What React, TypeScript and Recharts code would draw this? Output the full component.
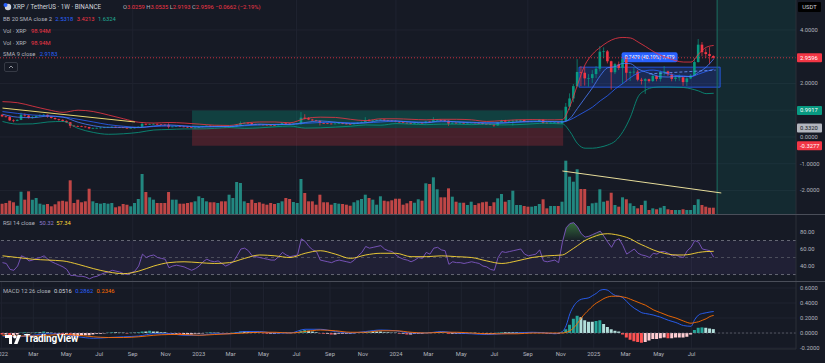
import React from "react";
import {
  ComposedChart,
  Bar,
  Line,
  Area,
  XAxis,
  YAxis,
  CartesianGrid,
  ReferenceArea,
  ReferenceLine,
  Cell,
} from "recharts";

// weekly candles, week 0 = 2022-01-03 (Binance XRP/USDT 1W)
const firstOpen = 0.83;
const closes = [
  0.77, 0.75, 0.62, 0.60, 0.64, 0.83, 0.80, 0.72, 0.74, 0.78,
  0.80, 0.83, 0.76, 0.71, 0.67, 0.64, 0.60, 0.55, 0.42, 0.41,
  0.40, 0.39, 0.37, 0.32, 0.33, 0.34, 0.35, 0.36, 0.37, 0.38,
  0.37, 0.36, 0.34, 0.33, 0.34, 0.35, 0.38, 0.49, 0.46, 0.48,
  0.49, 0.47, 0.46, 0.45, 0.38, 0.39, 0.40, 0.39, 0.38, 0.36,
  0.34, 0.35, 0.37, 0.40, 0.42, 0.41, 0.40, 0.41, 0.39, 0.37,
  0.38, 0.40, 0.45, 0.52, 0.53, 0.52, 0.48, 0.47, 0.46, 0.455,
  0.45, 0.445, 0.44, 0.47, 0.52, 0.50, 0.48, 0.49, 0.50, 0.72,
  0.70, 0.65, 0.62, 0.60, 0.52, 0.51, 0.50, 0.49, 0.50, 0.51,
  0.50, 0.49, 0.48, 0.50, 0.53, 0.56, 0.62, 0.61, 0.62, 0.63,
  0.65, 0.62, 0.61, 0.60, 0.57, 0.55, 0.53, 0.52, 0.50, 0.51,
  0.53, 0.52, 0.58, 0.56, 0.63, 0.64, 0.62, 0.61, 0.50, 0.53,
  0.52, 0.53, 0.52, 0.53, 0.54, 0.53, 0.52, 0.49, 0.48, 0.47,
  0.43, 0.55, 0.60, 0.59, 0.60, 0.61, 0.62, 0.63, 0.59, 0.57,
  0.58, 0.59, 0.64, 0.53, 0.52, 0.53, 0.54, 0.51, 0.60, 1.13,
  1.44, 1.90, 2.43, 2.40, 2.19, 2.20, 2.35, 2.55, 3.19, 3.20,
  2.83, 2.42, 2.72, 2.58, 2.90, 2.40, 2.43, 2.44, 2.14, 2.10,
  2.16, 2.09, 2.28, 2.17, 2.43, 2.45, 2.34, 2.17, 2.22, 2.23,
  2.05, 2.19, 2.30, 2.80, 3.45, 3.17, 3.10, 3.0259, 2.9596,
];
const highs = [
  0.85, 0.79, 0.78, 0.66, 0.66, 0.91, 0.88, 0.82, 0.79, 0.80,
  0.85, 0.86, 0.84, 0.77, 0.73, 0.68, 0.66, 0.62, 0.56, 0.45,
  0.43, 0.42, 0.40, 0.38, 0.35, 0.35, 0.37, 0.38, 0.39, 0.40,
  0.39, 0.38, 0.37, 0.35, 0.35, 0.36, 0.40, 0.56, 0.50, 0.50,
  0.51, 0.50, 0.48, 0.47, 0.51, 0.40, 0.41, 0.41, 0.40, 0.39,
  0.37, 0.36, 0.38, 0.41, 0.43, 0.43, 0.42, 0.42, 0.42, 0.40,
  0.39, 0.41, 0.47, 0.58, 0.55, 0.55, 0.53, 0.49, 0.48, 0.47,
  0.47, 0.46, 0.46, 0.48, 0.54, 0.53, 0.51, 0.50, 0.51, 0.93,
  0.85, 0.74, 0.68, 0.64, 0.62, 0.54, 0.52, 0.51, 0.52, 0.53,
  0.53, 0.52, 0.50, 0.51, 0.55, 0.58, 0.74, 0.67, 0.64, 0.65,
  0.67, 0.66, 0.64, 0.63, 0.62, 0.58, 0.56, 0.54, 0.53, 0.53,
  0.54, 0.55, 0.60, 0.60, 0.74, 0.67, 0.65, 0.64, 0.62, 0.55,
  0.55, 0.54, 0.54, 0.55, 0.55, 0.55, 0.54, 0.53, 0.50, 0.49,
  0.48, 0.56, 0.64, 0.64, 0.62, 0.64, 0.64, 0.64, 0.64, 0.61,
  0.59, 0.60, 0.66, 0.65, 0.55, 0.55, 0.56, 0.55, 0.64, 1.27,
  1.63, 1.98, 2.91, 2.65, 2.60, 2.35, 2.50, 2.65, 3.40, 3.35,
  3.25, 2.85, 2.77, 2.82, 2.95, 3.00, 2.48, 2.60, 2.50, 2.21,
  2.20, 2.18, 2.35, 2.30, 2.48, 2.65, 2.48, 2.38, 2.30, 2.34,
  2.25, 2.23, 2.35, 2.95, 3.66, 3.55, 3.30, 3.36, 3.0535,
];
const lows = [
  0.74, 0.73, 0.60, 0.55, 0.59, 0.63, 0.76, 0.69, 0.68, 0.73,
  0.77, 0.78, 0.72, 0.69, 0.64, 0.60, 0.56, 0.52, 0.33, 0.39,
  0.38, 0.37, 0.35, 0.29, 0.31, 0.31, 0.32, 0.33, 0.35, 0.36,
  0.35, 0.34, 0.33, 0.32, 0.32, 0.32, 0.34, 0.37, 0.44, 0.45,
  0.46, 0.45, 0.44, 0.43, 0.32, 0.36, 0.37, 0.37, 0.36, 0.34,
  0.33, 0.33, 0.34, 0.36, 0.39, 0.39, 0.38, 0.39, 0.38, 0.36,
  0.35, 0.36, 0.38, 0.43, 0.49, 0.50, 0.45, 0.45, 0.44, 0.44,
  0.43, 0.43, 0.42, 0.43, 0.46, 0.47, 0.46, 0.46, 0.47, 0.46,
  0.66, 0.63, 0.60, 0.58, 0.43, 0.49, 0.48, 0.47, 0.48, 0.49,
  0.48, 0.47, 0.46, 0.47, 0.49, 0.52, 0.55, 0.58, 0.59, 0.60,
  0.61, 0.60, 0.59, 0.58, 0.55, 0.53, 0.51, 0.50, 0.48, 0.49,
  0.50, 0.51, 0.51, 0.54, 0.55, 0.59, 0.58, 0.57, 0.42, 0.49,
  0.50, 0.50, 0.50, 0.51, 0.51, 0.51, 0.50, 0.47, 0.46, 0.46,
  0.38, 0.42, 0.54, 0.57, 0.56, 0.43, 0.56, 0.56, 0.55, 0.55,
  0.56, 0.57, 0.58, 0.50, 0.51, 0.51, 0.52, 0.50, 0.49, 0.58,
  1.01, 1.30, 1.85, 1.90, 1.92, 1.88, 2.02, 2.20, 2.45, 2.95,
  2.75, 1.77, 2.35, 2.50, 1.99, 2.07, 2.09, 2.32, 2.08, 1.96,
  1.61, 2.03, 2.05, 2.08, 2.07, 2.30, 2.28, 2.08, 2.08, 2.10,
  1.91, 1.90, 2.16, 2.28, 2.78, 3.02, 2.95, 2.72, 2.9193,
];
// weekly volume, millions of XRP
const volumes = [
  162, 173, 209, 184, 130, 350, 225, 356, 225, 251,
  162, 146, 157, 121, 152, 199, 209, 196, 529, 173,
  225, 184, 199, 397, 199, 173, 162, 173, 162, 173,
  105, 121, 157, 146, 121, 173, 236, 628, 345, 262,
  225, 173, 173, 173, 345, 225, 225, 162, 162, 173,
  184, 199, 278, 251, 199, 184, 184, 173, 199, 199,
  303, 251, 502, 487, 199, 173, 225, 173, 184, 162,
  146, 173, 157, 173, 199, 251, 236, 188, 173, 550,
  330, 199, 199, 146, 303, 184, 184, 146, 173, 162,
  157, 146, 130, 184, 215, 236, 303, 251, 225, 146,
  278, 209, 199, 215, 240, 240, 146, 168, 204, 177,
  231, 209, 482, 471, 576, 388, 262, 262, 403, 272,
  193, 177, 177, 141, 193, 141, 168, 184, 193, 126,
  184, 246, 314, 193, 220, 366, 141, 141, 126, 115,
  115, 126, 157, 231, 89, 126, 126, 126, 193, 837,
  586, 507, 702, 393, 393, 126, 168, 177, 388, 193,
  209, 334, 141, 115, 262, 231, 168, 126, 89, 141,
  209, 63, 89, 74, 99, 126, 74, 63, 63, 63,
  74, 63, 63, 141, 231, 141, 115, 99, 98.94,
];

// Bollinger Bands (20, 2) and SMA 9, read at these weeks
const bandWeeks = [
  0, 4, 8, 12, 16, 20, 24, 28, 32, 36, 40, 44, 48, 52, 56, 60, 64, 68, 72, 76,
  80, 84, 88, 92, 96, 100, 104, 108, 112, 116, 120, 124, 128, 132, 136, 140, 144,
  146, 148, 150, 152, 154, 156, 158, 160, 162, 164, 166, 168, 170, 172, 174, 176,
  178, 180, 182, 184, 186, 188,
];
const bbUpper = [
  1.32, 1.28, 1.15, 1.02, 0.92, 1.0, 0.95, 0.82, 0.68, 0.55, 0.52, 0.54, 0.52, 0.48,
  0.44, 0.43, 0.52, 0.56, 0.56, 0.53, 0.69, 0.74, 0.73, 0.66, 0.61, 0.68, 0.68, 0.66,
  0.64, 0.66, 0.66, 0.64, 0.58, 0.61, 0.64, 0.65, 0.64,
  0.64, 0.65, 1.15, 1.95, 2.7, 3.1, 3.35, 3.55, 3.68, 3.72, 3.7, 3.55, 3.38, 3.2,
  3.05, 2.95, 2.85, 2.8, 2.8, 3.1, 3.35, 3.4213,
];
const bbBasis = [
  0.95, 0.88, 0.82, 0.79, 0.75, 0.66, 0.56, 0.46, 0.4, 0.36, 0.39, 0.41, 0.41, 0.39,
  0.38, 0.39, 0.42, 0.45, 0.47, 0.47, 0.51, 0.54, 0.55, 0.53, 0.53, 0.56, 0.59, 0.57,
  0.55, 0.57, 0.57, 0.55, 0.53, 0.53, 0.55, 0.57, 0.58,
  0.57, 0.57, 0.64, 0.79, 0.95, 1.12, 1.35, 1.55, 1.8, 2.0, 2.22, 2.39, 2.48, 2.5,
  2.45, 2.36, 2.3, 2.28, 2.26, 2.35, 2.45, 2.5318,
];
const bbLower = [
  0.58, 0.48, 0.49, 0.56, 0.58, 0.32, 0.17, 0.1, 0.12, 0.17, 0.26, 0.28, 0.3, 0.3,
  0.32, 0.35, 0.32, 0.34, 0.38, 0.41, 0.33, 0.34, 0.37, 0.4, 0.45, 0.44, 0.5, 0.48,
  0.46, 0.48, 0.48, 0.46, 0.48, 0.45, 0.46, 0.49, 0.52,
  0.5, 0.49, 0.2, -0.25, -0.42, -0.42, -0.38, -0.3, -0.15, 0.2, 0.75, 1.5, 1.75,
  1.85, 1.87, 1.87, 1.86, 1.85, 1.8, 1.72, 1.62, 1.6324,
];
const sma9 = [
  0.85, 0.74, 0.72, 0.78, 0.74, 0.55, 0.42, 0.36, 0.36, 0.35, 0.41, 0.45, 0.41, 0.37,
  0.39, 0.39, 0.44, 0.48, 0.46, 0.47, 0.54, 0.6, 0.55, 0.5, 0.53, 0.61, 0.6, 0.55,
  0.53, 0.6, 0.56, 0.53, 0.52, 0.52, 0.56, 0.59, 0.58,
  0.57, 0.56, 0.69, 1.07, 1.46, 1.85, 2.29, 2.59, 2.63, 2.75, 2.74, 2.54, 2.43, 2.33,
  2.25, 2.24, 2.26, 2.26, 2.26, 2.42, 2.61, 2.9183,
];

// RSI 14, weekly
const rsi = [
  44, 43, 36, 35, 40, 52, 50, 46, 47, 49, 50, 52, 48, 45, 43, 41, 39, 36, 29, 29,
  28, 28, 27, 25, 27, 28, 30, 32, 33, 35, 34, 33, 31, 30, 32, 34, 40, 54, 50, 52,
  53, 50, 49, 48, 38, 40, 41, 40, 39, 37, 35, 37,
  40, 45, 48, 46, 45, 46, 43, 40, 42, 45, 52, 60, 61, 58, 52, 51, 50, 49, 48, 47,
  47, 51, 56, 53, 51, 52, 53, 72, 69, 63, 59, 57, 47, 46, 45, 44, 46, 47, 46, 45,
  44, 47, 52, 56, 63, 61, 62, 63, 64, 60, 58, 57,
  53, 50, 48, 47, 45, 47, 50, 49, 56, 54, 61, 62, 59, 58, 42, 45, 44, 44, 43, 44,
  45, 44, 43, 40, 39, 36, 35, 50, 57, 56, 57, 58, 59, 60, 54, 52, 53, 54, 59, 46,
  45, 46, 47, 44, 68, 85, 90, 91, 86, 78, 74, 75, 77,
  79, 81, 75, 68, 62, 70, 72, 64, 54, 57, 60, 55, 53, 52, 50, 55, 54, 57, 57, 55,
  52, 53, 51, 50, 58, 62, 70, 68, 60, 59, 58, 50.32,
];
const rsiMaWeeks = [
  0, 4, 8, 12, 16, 20, 24, 28, 32, 36, 40, 44, 48, 52, 56, 60, 64, 68, 72, 76, 80,
  84, 88, 92, 96, 100, 104, 108, 112, 116, 120, 124, 128, 132, 136, 140, 144, 148,
  150, 152, 154, 156, 158, 160, 162, 164, 166, 168, 170, 172, 174, 176, 178, 180,
  182, 184, 186, 188,
];
const rsiMa = [
  52, 50, 48, 47, 46, 42, 37, 33, 31, 34, 40, 44, 45, 44, 43, 44, 49, 53, 52, 50, 55,
  58, 54, 49, 53, 55, 55, 51, 51, 52, 51, 50, 46, 43, 46, 50, 52, 53,
  58, 64, 70, 74, 77, 78, 77, 75, 72, 67, 63, 59, 56, 54, 53, 53, 54, 56, 57, 57.34,
];

// MACD 12 26 9
const macdWeeks = [
  0, 4, 8, 12, 16, 20, 24, 28, 32, 36, 40, 44, 48, 52, 56, 60, 64, 68, 72, 76, 80,
  84, 88, 92, 96, 100, 104, 108, 112, 116, 120, 124, 128, 132, 136, 140, 144, 146,
  148, 149, 150, 151, 152, 153, 154, 155, 156, 157, 158, 159, 160, 161, 162, 163,
  164, 165, 166, 167, 168, 169, 170, 172, 174, 176, 178, 180, 182, 183, 184, 185,
  186, 187, 188,
];
const macdLine = [
  -0.04, -0.05, -0.03, -0.01, -0.02, -0.05, -0.07, -0.06, -0.05, -0.04, -0.01, -0.01,
  -0.03, -0.03, -0.01, -0.01, 0.02, 0.02, 0.0, 0.0, 0.05, 0.05, 0.02, 0.0, 0.02, 0.04,
  0.03, 0.0, 0.0, 0.02, 0.0, -0.01, -0.02, -0.01, 0.0, 0.01, 0.0, -0.01,
  0.02, 0.1, 0.26, 0.36, 0.42, 0.45, 0.46, 0.47, 0.5, 0.53, 0.57, 0.58, 0.57, 0.53,
  0.5, 0.49, 0.47, 0.42, 0.37, 0.33, 0.3, 0.27, 0.26, 0.24, 0.21, 0.17, 0.14, 0.1,
  0.09, 0.18, 0.24, 0.26, 0.27, 0.28, 0.2862,
];
const macdSignal = [
  -0.03, -0.04, -0.04, -0.03, -0.02, -0.03, -0.05, -0.06, -0.06, -0.05, -0.03, -0.02,
  -0.02, -0.03, -0.02, -0.01, 0.0, 0.01, 0.01, 0.0, 0.02, 0.04, 0.03, 0.01, 0.01, 0.03,
  0.03, 0.01, 0.0, 0.01, 0.01, 0.0, -0.01, -0.01, -0.01, 0.0, 0.0, 0.0,
  0.0, 0.01, 0.03, 0.07, 0.13, 0.2, 0.26, 0.31, 0.36, 0.4, 0.43, 0.46, 0.48, 0.49,
  0.49, 0.49, 0.48, 0.47, 0.45, 0.43, 0.41, 0.39, 0.37, 0.31, 0.27, 0.23, 0.2, 0.16,
  0.13, 0.14, 0.15, 0.17, 0.19, 0.22, 0.2346,
];
const macdHist = [
  -0.02, -0.02, -0.03, -0.03, -0.02, 0.005, 0.01, 0.005, 0.005, 0.01, 0.01, 0.02,
  0.01, 0.005, -0.01, -0.01, -0.02, -0.02, -0.04, -0.04, -0.04, -0.03, -0.03, -0.03,
  -0.02, -0.01, -0.01, -0.005, 0.005, 0.01, 0.01, 0.005, 0.005, -0.005, 0.005, 0.005,
  0.01, 0.02, 0.02, 0.03, 0.02, 0.02, 0.01, 0.01, -0.01, -0.01, -0.01, -0.02, -0.02,
  -0.02, -0.02, -0.01,
  -0.01, -0.005, 0.005, 0.01, 0.005, 0.005, -0.005, -0.01, -0.01, 0.005, 0.01, 0.02,
  0.02, 0.02, 0.01, 0.01, 0.005, -0.005, -0.01, -0.01, -0.01, -0.005, 0.005, 0.005,
  0.005, 0.005, 0.005, 0.03, 0.04, 0.03, 0.02, 0.01, -0.005, -0.01, -0.01, -0.02,
  -0.02, -0.01, -0.01, -0.01, -0.01, -0.005, 0.005, 0.01, 0.01, 0.02, 0.02, 0.02,
  0.02, 0.01, 0.01, 0.005,
  0.005, -0.01, -0.01, -0.02, -0.02, -0.01, -0.01, -0.01, 0.005, 0.005, 0.01, 0.01,
  0.01, 0.005, -0.01, -0.01, -0.01, -0.01, -0.01, -0.005, 0.005, 0.005, -0.005,
  -0.01, -0.01, -0.01, -0.01, 0.005, 0.01, 0.01, 0.01, 0.01, 0.01, 0.005, 0.005,
  0.005, 0.005, 0.005, 0.01, 0.005, -0.01, -0.01, -0.01, -0.01, 0.01, 0.05, 0.11,
  0.19, 0.23, 0.21, 0.17, 0.15, 0.15,
  0.16, 0.17, 0.12, 0.08, 0.05, 0.03, 0.02, -0.02, -0.06, -0.09, -0.11, -0.12, -0.13,
  -0.12, -0.1, -0.08, -0.08, -0.07, -0.06, -0.07, -0.07, -0.06, -0.06, -0.06, -0.05,
  -0.02, 0.04, 0.07, 0.075, 0.07, 0.06, 0.0516,
];

// drawings on the price pane (week, price)
const trendLine = [
  { x: 0, y: 1.08 },
  { x: 35, y: 0.56 },
];
const volumeTrend = [
  { x: 148, y: 675 },
  { x: 190, y: 330 },
];
const rangeGuide = [
  { x: 171, y: 2.36 },
  { x: 188.5, y: 2.5 },
];
const positionTool = { from: 50.1, to: 148.2, target: 0.9917, entry: 0.332, stop: -0.3277 };
const priceRange = { from: 152.4, to: 189.7, low: 1.861, high: 2.609 };
const rangeTagText = "0.7479 (40.19%) 7,479";
const futureFrom = 188.9;

const tickLabels = [
  "2022", "Mar", "May", "Jul", "Sep", "Nov",
  "2023", "Mar", "May", "Jul", "Sep", "Nov",
  "2024", "Mar", "May", "Jul", "Sep", "Nov",
  "2025", "Mar", "May", "Jul",
];
const tickDates = [
  "2022-01-01", "2022-03-01", "2022-05-01", "2022-07-01", "2022-09-01", "2022-11-01",
  "2023-01-01", "2023-03-01", "2023-05-01", "2023-07-01", "2023-09-01", "2023-11-01",
  "2024-01-01", "2024-03-01", "2024-05-01", "2024-07-01", "2024-09-01", "2024-11-01",
  "2025-01-01", "2025-03-01", "2025-05-01", "2025-07-01",
];
const priceTicks = [4, 2.9596, 2, 0.9917, 0.332, 0, -0.3277, -1, -2];
const priceGrid = [4, 3, 2, 1, 0, -1, -2];
const rsiTicks = [80, 60, 40];
const macdTicks = [0.6, 0.4, 0.2, 0, -0.2];

const WEEK_MS = 7 * 24 * 3600 * 1000;
const FIRST_WEEK = Date.UTC(2022, 0, 3);
const monthTicks = tickDates.map((d) => (Date.parse(d) - FIRST_WEEK) / WEEK_MS);

const X_DOMAIN: [number, number] = [-0.66, 209.75];
const PRICE_DOMAIN: [number, number] = [-2.88, 5.12];
const RSI_DOMAIN: [number, number] = [22.4, 100];
const MACD_DOMAIN: [number, number] = [-0.213, 0.68];

const BG = "#161a25";
const GRID = "#1f2330";
const AXIS_LINE = "#2a2e39";
const TXT = "#b2b5be";
const UP = "#089981";
const DOWN = "#f23645";
const BLUE = "#2962ff";
const FONT = "Roboto, 'Noto Sans', sans-serif";

const priceBadges = [
  { value: 2.9596, bg: "#f23645", fg: "#ffffff" },
  { value: 0.9917, bg: "#089981", fg: "#ffffff" },
  { value: 0.332, bg: "#b2b5be", fg: "#131722" },
  { value: -0.3277, bg: "#f23645", fg: "#ffffff" },
];

type Row = {
  i: number; o: number; c: number; h: number; l: number; v: number;
  rsi: number; hist: number;
  bbU?: number; bbB?: number; bbL?: number; sma?: number;
  rsiMa?: number; macd?: number; signal?: number;
};

const rows: Row[] = closes.map((c, i) => ({
  i,
  o: i === 0 ? firstOpen : closes[i - 1],
  c,
  h: highs[i],
  l: lows[i],
  v: volumes[i],
  rsi: rsi[i],
  hist: macdHist[i],
}));
bandWeeks.forEach((w, k) => {
  rows[w].bbU = bbUpper[k];
  rows[w].bbB = bbBasis[k];
  rows[w].bbL = bbLower[k];
  rows[w].sma = sma9[k];
});
rsiMaWeeks.forEach((w, k) => {
  rows[w].rsiMa = rsiMa[k];
});
macdWeeks.forEach((w, k) => {
  rows[w].macd = macdLine[k];
  rows[w].signal = macdSignal[k];
});

const histColor = (i: number) => {
  const h = macdHist[i];
  const p = i > 0 ? macdHist[i - 1] : 0;
  if (h >= 0) return h > p ? "#26a69a" : "#b2dfdb";
  return h < p ? "#ff5252" : "#ffcdd2";
};

const Candle = (props: any) => {
  const { x, y, width, height, payload } = props;
  if (!payload || height == null) return null;
  const { o, c, h, l } = payload;
  const color = c >= o ? UP : DOWN;
  const span = h - l || 1;
  const py = (v: number) => y + ((h - v) / span) * height;
  const top = py(Math.max(o, c));
  const bottom = py(Math.min(o, c));
  const cx = x + width / 2;
  return (
    <g>
      <line x1={cx} x2={cx} y1={y} y2={y + height} stroke={color} strokeWidth={0.7} />
      <rect x={x + 0.2} y={top} width={width - 0.4} height={Math.max(0.7, bottom - top)} fill={color} />
    </g>
  );
};

const PriceTick = (props: any) => {
  const { x, y, payload } = props;
  const v = payload.value as number;
  const badge = priceBadges.find((b) => b.value === v);
  if (badge) {
    return (
      <g>
        <rect x={x + 1} y={y - 4.5} width={25} height={9} rx={1} fill={badge.bg} />
        <text x={x + 4} y={y} dy="0.35em" fontSize={5.8} fill={badge.fg} fontFamily={FONT}>
          {v.toFixed(4)}
        </text>
      </g>
    );
  }
  return (
    <text x={x + 4} y={y} dy="0.35em" fontSize={5.8} fill={TXT} fontFamily={FONT}>
      {v.toFixed(4)}
    </text>
  );
};

const plainTick = (digits: number) => (props: any) => {
  const { x, y, payload } = props;
  return (
    <text x={x + 4} y={y} dy="0.35em" fontSize={5.8} fill={TXT} fontFamily={FONT}>
      {(payload.value as number).toFixed(digits)}
    </text>
  );
};

const RangeTag = (props: any) => {
  const { viewBox } = props;
  if (!viewBox) return null;
  const cx = viewBox.x + viewBox.width / 2;
  return (
    <g>
      <rect x={cx - 28} y={viewBox.y - 15} width={56} height={10} rx={2} fill={BLUE} />
      <text x={cx} y={viewBox.y - 10} dy="0.35em" textAnchor="middle" fontSize={5} fill="#ffffff" fontFamily={FONT}>
        {rangeTagText}
      </text>
    </g>
  );
};

const ZERO = { top: 0, right: 0, bottom: 0, left: 0 };

const PriceChart = () => (
  <ComposedChart width={825} height={214} data={rows} margin={ZERO}>
    <CartesianGrid stroke={GRID} yAxisId="price" horizontalValues={priceGrid} verticalValues={monthTicks} />
    <XAxis dataKey="i" type="number" domain={X_DOMAIN} ticks={monthTicks} hide allowDataOverflow />
    <XAxis xAxisId="vol" dataKey="i" type="number" domain={X_DOMAIN} hide allowDataOverflow />
    <YAxis
      yAxisId="price"
      orientation="right"
      width={29}
      domain={PRICE_DOMAIN}
      ticks={priceTicks}
      interval={0}
      tick={(p: any) => <PriceTick {...p} />}
      tickSize={0}
      tickMargin={0}
      tickLine={false}
      axisLine={{ stroke: AXIS_LINE }}
      allowDataOverflow
    />
    <YAxis yAxisId="vol" hide domain={[0, 3360]} allowDataOverflow />
    <ReferenceArea yAxisId="price" x1={futureFrom} x2={X_DOMAIN[1]} fill="#089981" fillOpacity={0.13} />
    <ReferenceLine yAxisId="price" x={futureFrom} stroke="#1d6f63" />
    <ReferenceArea
      yAxisId="price"
      x1={positionTool.from}
      x2={positionTool.to}
      y1={positionTool.entry}
      y2={positionTool.target}
      fill="#089981"
      fillOpacity={0.3}
    />
    <ReferenceArea
      yAxisId="price"
      x1={positionTool.from}
      x2={positionTool.to}
      y1={positionTool.stop}
      y2={positionTool.entry}
      fill="#f23645"
      fillOpacity={0.22}
    />
    <ReferenceArea
      yAxisId="price"
      x1={priceRange.from}
      x2={priceRange.to}
      y1={priceRange.low}
      y2={priceRange.high}
      fill={BLUE}
      fillOpacity={0.22}
      stroke={BLUE}
      strokeOpacity={0.8}
      label={<RangeTag />}
    />
    <ReferenceLine yAxisId="price" y={2.9596} stroke={DOWN} strokeDasharray="1 2" strokeOpacity={0.8} />
    <Bar xAxisId="vol" yAxisId="vol" dataKey="v" barSize={3} isAnimationActive={false}>
      {rows.map((r) => (
        <Cell key={r.i} fill={r.c >= r.o ? "#26a69a" : "#ef5350"} fillOpacity={0.78} />
      ))}
    </Bar>
    <ReferenceLine yAxisId="vol" xAxisId="vol" segment={volumeTrend} stroke="#e6dc9a" strokeWidth={1} />
    <Line yAxisId="price" dataKey="bbU" type="monotone" stroke={DOWN} strokeWidth={0.8} dot={false} activeDot={false} connectNulls isAnimationActive={false} />
    <Line yAxisId="price" dataKey="bbL" type="monotone" stroke={UP} strokeWidth={0.8} dot={false} activeDot={false} connectNulls isAnimationActive={false} />
    <Line yAxisId="price" dataKey="bbB" type="monotone" stroke={BLUE} strokeWidth={0.8} dot={false} activeDot={false} connectNulls isAnimationActive={false} />
    <Line yAxisId="price" dataKey="sma" type="monotone" stroke="#4a7dff" strokeWidth={0.8} dot={false} activeDot={false} connectNulls isAnimationActive={false} />
    <ReferenceLine yAxisId="price" segment={trendLine} stroke="#e8d56f" strokeWidth={1} />
    <ReferenceLine yAxisId="price" segment={rangeGuide} stroke="#6f9bff" strokeDasharray="3 2" strokeWidth={0.8} />
    <Bar
      yAxisId="price"
      dataKey={(d: Row) => [d.l, d.h]}
      barSize={3}
      shape={(p: any) => <Candle {...p} />}
      isAnimationActive={false}
    />
  </ComposedChart>
);

const RsiChart = () => (
  <ComposedChart width={825} height={66} data={rows} margin={ZERO}>
    <defs>
      <linearGradient id="obFill" x1="0" y1="0" x2="0" y2="1">
        <stop offset="0%" stopColor="#4caf50" stopOpacity={0.9} />
        <stop offset="100%" stopColor="#4caf50" stopOpacity={0.05} />
      </linearGradient>
    </defs>
    <CartesianGrid stroke={GRID} horizontal={false} verticalValues={monthTicks} />
    <XAxis dataKey="i" type="number" domain={X_DOMAIN} ticks={monthTicks} hide allowDataOverflow />
    <YAxis
      orientation="right"
      width={29}
      domain={RSI_DOMAIN}
      ticks={rsiTicks}
      interval={0}
      tick={plainTick(2)}
      tickSize={0}
      tickMargin={0}
      tickLine={false}
      axisLine={{ stroke: AXIS_LINE }}
      allowDataOverflow
    />
    <ReferenceArea y1={30} y2={70} fill="#7e57c2" fillOpacity={0.1} />
    <ReferenceLine y={70} stroke="#787b86" strokeDasharray="3 3" strokeOpacity={0.8} />
    <ReferenceLine y={50} stroke="#787b86" strokeDasharray="3 3" strokeOpacity={0.5} />
    <ReferenceLine y={30} stroke="#787b86" strokeDasharray="3 3" strokeOpacity={0.8} />
    <Area
      dataKey={(d: Row) => [70, Math.max(70, d.rsi)]}
      fill="url(#obFill)"
      stroke="none"
      activeDot={false}
      isAnimationActive={false}
    />
    <Line dataKey="rsi" stroke="#7e57c2" strokeWidth={0.9} dot={false} activeDot={false} isAnimationActive={false} />
    <Line dataKey="rsiMa" type="monotone" stroke="#fdd835" strokeWidth={0.9} dot={false} activeDot={false} connectNulls isAnimationActive={false} />
  </ComposedChart>
);

const MacdChart = () => (
  <ComposedChart width={825} height={81} data={rows} margin={ZERO}>
    <CartesianGrid stroke={GRID} horizontalValues={macdTicks} verticalValues={monthTicks} />
    <XAxis
      dataKey="i"
      type="number"
      domain={X_DOMAIN}
      ticks={monthTicks}
      interval={0}
      height={14}
      tickSize={0}
      tickMargin={3}
      tickLine={false}
      axisLine={{ stroke: AXIS_LINE }}
      tick={{ fontSize: 5.8, fill: TXT, fontFamily: FONT }}
      tickFormatter={(v: number) => tickLabels[monthTicks.indexOf(v)] ?? ""}
      allowDataOverflow
    />
    <YAxis
      orientation="right"
      width={29}
      domain={MACD_DOMAIN}
      ticks={macdTicks}
      interval={0}
      tick={plainTick(4)}
      tickSize={0}
      tickMargin={0}
      tickLine={false}
      axisLine={{ stroke: AXIS_LINE }}
      allowDataOverflow
    />
    <ReferenceLine y={0} stroke="#787b86" strokeDasharray="2 2" strokeOpacity={0.6} />
    <Bar dataKey="hist" barSize={3} isAnimationActive={false}>
      {rows.map((r) => (
        <Cell key={r.i} fill={histColor(r.i)} />
      ))}
    </Bar>
    <Line dataKey="macd" type="monotone" stroke={BLUE} strokeWidth={0.9} dot={false} activeDot={false} connectNulls isAnimationActive={false} />
    <Line dataKey="signal" type="monotone" stroke="#ff6d00" strokeWidth={0.9} dot={false} activeDot={false} connectNulls isAnimationActive={false} />
  </ComposedChart>
);

const small: React.CSSProperties = {
  position: "absolute",
  fontSize: 5.8,
  lineHeight: "8px",
  whiteSpace: "nowrap",
  color: TXT,
};

export default function App() {
  return (
    <div
      style={{
        position: "fixed",
        left: 0,
        top: 0,
        width: 825,
        height: 363,
        background: BG,
        fontFamily: FONT,
        overflow: "hidden",
      }}
    >
      <div style={{ position: "absolute", left: 0, top: 0 }}>
        <PriceChart />
      </div>
      <div style={{ position: "absolute", left: 0, top: 214, width: 825, height: 1, background: "#4a4e59" }} />
      <div style={{ position: "absolute", left: 0, top: 215 }}>
        <RsiChart />
      </div>
      <div style={{ position: "absolute", left: 0, top: 281, width: 825, height: 1, background: "#4a4e59" }} />
      <div style={{ position: "absolute", left: 0, top: 282 }}>
        <MacdChart />
      </div>

      {/* legend, price pane */}
      <svg style={{ position: "absolute", left: 3, top: 3 }} width={9} height={8}>
        <circle cx={5} cy={4} r={3.2} fill="#d1d4dc" />
        <circle cx={2.5} cy={2} r={2} fill="#2962ff" />
      </svg>
      <div style={{ ...small, left: 13, top: 3, fontSize: 6.3, color: "#d1d4dc" }}>
        XRP / TetherUS · 1W · BINANCE
      </div>
      <div style={{ ...small, left: 123, top: 3 }}>
        O<span style={{ color: DOWN }}>3.0259</span> H<span style={{ color: DOWN }}>3.0535</span> L
        <span style={{ color: DOWN }}>2.9193</span> C<span style={{ color: DOWN }}>2.9596</span>{" "}
        <span style={{ color: DOWN }}>−0.0662 (−2.19%)</span>
      </div>
      <div style={{ ...small, left: 3, top: 15 }}>
        BB 20 SMA close 2 <span style={{ color: BLUE, marginLeft: 2 }}>2.5318</span>{" "}
        <span style={{ color: DOWN, marginLeft: 2 }}>3.4213</span>{" "}
        <span style={{ color: "#22ab94", marginLeft: 2 }}>1.6324</span>
      </div>
      <div style={{ ...small, left: 3, top: 27 }}>
        Vol · XRP <span style={{ color: DOWN, marginLeft: 3 }}>98.94M</span>
      </div>
      <div style={{ ...small, left: 3, top: 39 }}>
        Vol · XRP <span style={{ color: DOWN, marginLeft: 3 }}>98.94M</span>
      </div>
      <div style={{ ...small, left: 3, top: 50 }}>
        SMA 9 close <span style={{ color: BLUE, marginLeft: 3 }}>2.9183</span>
      </div>
      <div
        style={{
          position: "absolute",
          left: 4,
          top: 62,
          width: 12,
          height: 8,
          border: "1px solid #363a45",
          borderRadius: 2,
        }}
      >
        <svg width={12} height={8} style={{ position: "absolute", left: 0, top: 0 }}>
          <polyline points="4,5 6,3 8,5" fill="none" stroke="#b2b5be" strokeWidth={0.8} />
        </svg>
      </div>
      <div
        style={{
          position: "absolute",
          left: 798,
          top: 2,
          width: 23,
          height: 10,
          background: "#000000",
          color: "#d1d4dc",
          fontSize: 5.8,
          lineHeight: "10px",
          textAlign: "center",
          borderRadius: 1,
        }}
      >
        USDT
      </div>

      {/* legend, RSI pane */}
      <div style={{ ...small, left: 3, top: 219 }}>
        RSI 14 close <span style={{ color: "#8c7ad0", marginLeft: 3 }}>50.32</span>{" "}
        <span style={{ color: "#fdd835", marginLeft: 1 }}>57.34</span>
      </div>

      {/* legend, MACD pane */}
      <div style={{ ...small, left: 3, top: 287 }}>
        MACD 12 26 close <span style={{ color: "#d1d4dc", marginLeft: 2 }}>0.0516</span>{" "}
        <span style={{ color: BLUE, marginLeft: 2 }}>0.2862</span>{" "}
        <span style={{ color: "#ff6d00", marginLeft: 2 }}>0.2346</span>
      </div>

      {/* TradingView mark */}
      <svg style={{ position: "absolute", left: 5, top: 335 }} width={18} height={9}>
        <path d="M0 0 H7 V9 H4 V3 H0 Z" fill="#ffffff" />
        <circle cx={9.8} cy={1.7} r={1.7} fill="#ffffff" />
        <path d="M12.5 0 H16 L12.5 9 H9 Z" fill="#ffffff" />
      </svg>
      <div
        style={{
          position: "absolute",
          left: 24,
          top: 333,
          fontSize: 10,
          fontWeight: 700,
          color: "#ffffff",
          lineHeight: "12px",
          letterSpacing: -0.2,
        }}
      >
        TradingView
      </div>
    </div>
  );
}
